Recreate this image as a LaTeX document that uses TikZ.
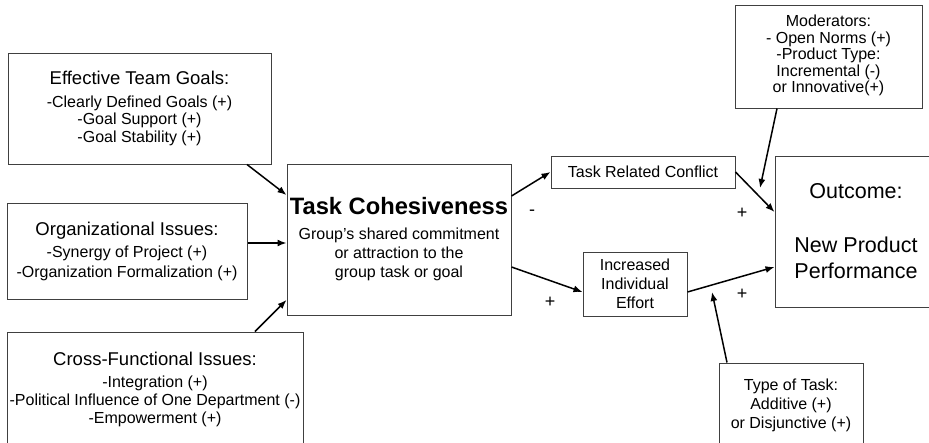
\documentclass[tikz,border=0pt]{standalone}
\usepackage{fontspec}
\setmainfont{Liberation Sans}
\usetikzlibrary{arrows.meta}
\begin{document}
\begin{tikzpicture}[x=1pt,y=-1pt,
  box/.style={draw=black!75, line width=1pt, inner sep=0pt, align=center},
  arr/.style={-{Latex[length=9pt,width=7pt]}, line width=1.5pt},
  sign/.style={font=\fontsize{18}{18}\selectfont, inner sep=0pt}]
\useasboundingbox (0,0) rectangle (929,442);
% boxes
\node[box, minimum width=263pt, minimum height=111pt, font=\fontsize{16}{17.7}\selectfont] (etg) at (139.5,108.5)
  {{\fontsize{18.5}{17.7}\selectfont Effective Team Goals:}\\[5pt]-Clearly Defined Goals (+)\\-Goal Support (+)\\-Goal Stability (+)};
\node[box, minimum width=240pt, minimum height=96pt, font=\fontsize{16}{20}\selectfont] (org) at (127,251)
  {{\fontsize{18.5}{20}\selectfont Organizational Issues:}\\[2pt]-Synergy of Project (+)\\-Organization Formalization (+)};
\node[box, minimum width=296pt, minimum height=114pt, font=\fontsize{16}{18}\selectfont] (cfi) at (155,389)
  {{\fontsize{18.5}{18}\selectfont Cross-Functional Issues:}\\[4pt]-Integration (+)\\-Political Influence of One Department (-)\\-Empowerment (+)};
\node[box, minimum width=224pt, minimum height=151pt, font=\fontsize{16}{19}\selectfont] (tc) at (399,239.5)
  {{\fontsize{23.7}{19}\selectfont\bfseries Task Cohesiveness}\\[6pt]Group’s shared commitment\\or attraction to the\\group task or goal};
\node[box, minimum width=184pt, minimum height=32pt, font=\fontsize{16}{18}\selectfont] (trc) at (643,172) {Task Related Conflict};
\node[box, minimum width=104pt, minimum height=64pt, font=\fontsize{16}{19}\selectfont] (iie) at (635,284)
  {Increased\\Individual\\Effort};
\node[box, minimum width=162pt, minimum height=151pt, font=\fontsize{21.5}{26}\selectfont] (out) at (856,231.5)
  {Outcome:\\[28pt]New Product\\Performance};
\node[box, minimum width=187pt, minimum height=103pt, font=\fontsize{16}{16.3}\selectfont] (mod) at (828.5,56.5)
  {\raisebox{7pt}{\begin{tabular}{@{}c@{}}Moderators:\\- Open Norms (+)\\-Product Type:\\Incremental (-)\\or Innovative(+)\end{tabular}}};
\node[box, minimum width=144pt, minimum height=84pt, font=\fontsize{16}{19}\selectfont] (tot) at (791,405)
  {Type of Task:\\Additive (+)\\or Disjunctive (+)};
% free ends
\coordinate (m1) at (760,188);
\coordinate (t1) at (712,292);
% connectors
\draw[arr] ([xshift=107.5pt]etg.south) -- ([yshift=44.5pt]tc.west);
\draw[arr] ([yshift=8pt]org.east) -- ([yshift=-3.5pt]tc.west);
\draw[arr] ([xshift=100pt]cfi.north) -- ([yshift=-60.5pt]tc.west);
\draw[arr] ([yshift=43.5pt]tc.east) -- (trc.west);
\draw[arr] ([yshift=-27.5pt]tc.east) -- ([yshift=-8pt]iie.west);
\draw[arr] (trc.east) -- ([yshift=19.5pt]out.west);
\draw[arr] ([yshift=-8pt]iie.east) -- ([yshift=-35.5pt]out.west);
\draw[arr] ([xshift=-51.5pt]mod.south) -- (m1);
\draw[arr] ([xshift=-64pt]tot.north) -- (t1);
% signs
\node[sign] (s1) at (532,213) {-};
\node[sign] (s2) at (550,302) {+};
\node[sign] (s3) at (742,213) {+};
\node[sign] (s4) at (742,294) {+};
\end{tikzpicture}
\end{document}
